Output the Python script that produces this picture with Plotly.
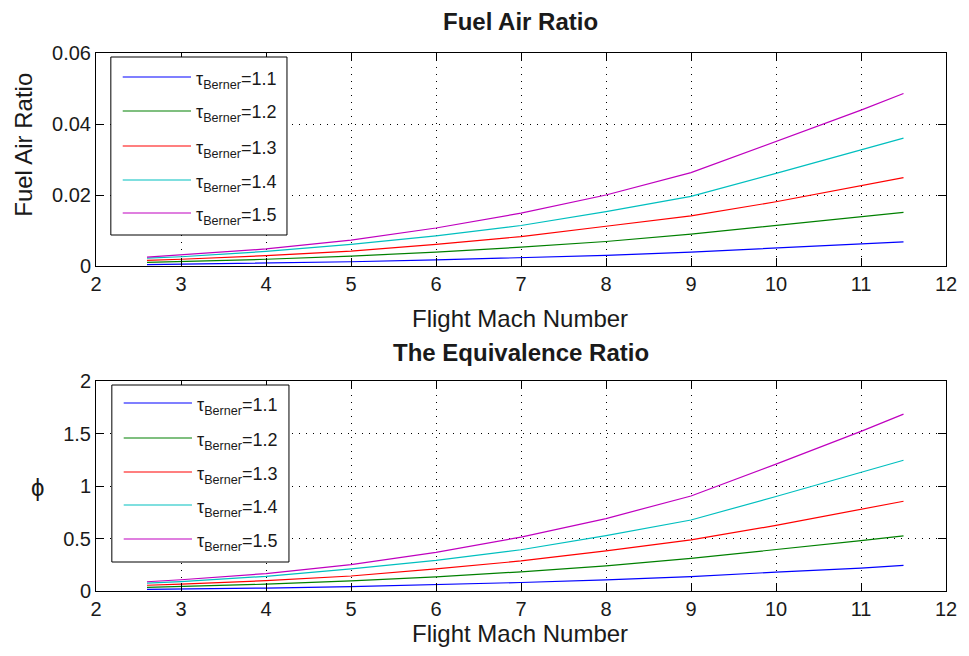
import plotly.graph_objects as go
from plotly.subplots import make_subplots

# Flight Mach numbers at which the cycle was evaluated
mach = [2.6, 3, 4, 5, 6, 7, 8, 9, 10, 11, 11.5]

# Burner temperature ratios (one curve each)
tau_labels = ["1.1", "1.2", "1.3", "1.4", "1.5"]

# Fuel/air ratio for each burner temperature ratio
far_11 = [0.0004, 0.0005, 0.0008, 0.0012, 0.0017, 0.0023, 0.0030, 0.0039, 0.0050, 0.0063, 0.0068]
far_12 = [0.0010, 0.0012, 0.0019, 0.0028, 0.0039, 0.0053, 0.0069, 0.0090, 0.0114, 0.0139, 0.0151]
far_13 = [0.0016, 0.0019, 0.0029, 0.0042, 0.0061, 0.0083, 0.0112, 0.0141, 0.0181, 0.0226, 0.0249]
far_14 = [0.0022, 0.0026, 0.0041, 0.0061, 0.0085, 0.0114, 0.0153, 0.0196, 0.0261, 0.0327, 0.0360]
far_15 = [0.0025, 0.0031, 0.0048, 0.0073, 0.0107, 0.0149, 0.0200, 0.0263, 0.0350, 0.0439, 0.0486]

# Equivalence ratio for each burner temperature ratio
phi_11 = [0.015, 0.018, 0.028, 0.042, 0.060, 0.081, 0.106, 0.136, 0.180, 0.218, 0.245]
phi_12 = [0.035, 0.042, 0.065, 0.097, 0.135, 0.183, 0.240, 0.310, 0.392, 0.480, 0.525]
phi_13 = [0.055, 0.065, 0.098, 0.143, 0.210, 0.286, 0.382, 0.487, 0.625, 0.780, 0.855]
phi_14 = [0.075, 0.090, 0.140, 0.210, 0.292, 0.393, 0.527, 0.676, 0.900, 1.130, 1.245]
phi_15 = [0.088, 0.107, 0.166, 0.252, 0.368, 0.513, 0.690, 0.905, 1.208, 1.520, 1.685]

far_series = [far_11, far_12, far_13, far_14, far_15]
phi_series = [phi_11, phi_12, phi_13, phi_14, phi_15]

x_ticks = list(range(2, 13))
far_ticks = [0, 0.02, 0.04, 0.06]
far_ticktext = ["0", "0.02", "0.04", "0.06"]
phi_ticks = [0, 0.5, 1, 1.5, 2]
phi_ticktext = ["0", "0.5", "1", "1.5", "2"]

colors = ["#0000ff", "#008000", "#ff0000", "#00bfbf", "#bf00bf"]

W, H = 969, 656
ML, MR, MT, MB = 96, 14, 53, 65
PW = W - ML - MR
PH = H - MT - MB


def px_x(px):
    return (px - ML) / PW


def px_y(py):
    return (H - MB - py) / PH


FONT = "Liberation Sans, Arial, sans-serif"
TXT = "#1a1a1a"

top_lo = px_y(266)
bot_hi = px_y(381)

fig = make_subplots(rows=2, cols=1)

for lab, far, phi, col in zip(tau_labels, far_series, phi_series, colors):
    fig.add_trace(go.Scatter(x=mach, y=far, mode="lines", name=lab,
                             line=dict(color=col, width=1.2), showlegend=False),
                  row=1, col=1)
    fig.add_trace(go.Scatter(x=mach, y=phi, mode="lines", name=lab,
                             line=dict(color=col, width=1.2), showlegend=False),
                  row=2, col=1)

axis_common = dict(
    showline=True, linecolor="black", linewidth=1, mirror="ticks",
    ticks="inside", ticklen=8, tickcolor="black", tickwidth=1,
    showgrid=True, gridcolor="black", gridwidth=1, griddash="1px,6px",
    zeroline=False,
    tickfont=dict(family=FONT, size=20, color=TXT),
)

fig.update_xaxes(range=[2, 12], tickvals=x_ticks, **axis_common)
fig.update_layout(
    xaxis=dict(domain=[0, 1]),
    xaxis2=dict(domain=[0, 1]),
    yaxis=dict(domain=[top_lo, 1], range=[0, 0.06], tickvals=far_ticks,
               ticktext=far_ticktext, **axis_common),
    yaxis2=dict(domain=[0, bot_hi], range=[0, 2], tickvals=phi_ticks,
                ticktext=phi_ticktext, **axis_common),
)

annotations = []
shapes = []


def label(text, cx, cy, size=24, angle=0):
    return dict(text=text, x=px_x(cx), y=px_y(cy), xref="paper", yref="paper",
                xanchor="center", yanchor="middle", showarrow=False,
                textangle=angle, font=dict(family=FONT, size=size, color=TXT))


# Titles and axis labels
annotations += [
    label("<b>Fuel Air Ratio</b>", 525, 22, size=24),
    label("<b>The Equivalence Ratio</b>", 525, 352, size=24),
    label("Flight Mach Number", 524, 318),
    label("Flight Mach Number", 524, 633),
    label("Fuel Air Ratio", 22, 145, angle=-90),
    label("ϕ", 37, 487),
]

# Legend boxes drawn inside each panel
legend_boxes = [
    dict(x0=111, x1=289, y0=57, y1=235, rows=[77, 111, 146, 180, 213]),
    dict(x0=112, x1=291, y0=385, y1=562, rows=[403, 438, 472, 505, 539]),
]
for box in legend_boxes:
    shapes.append(dict(type="rect", xref="paper", yref="paper",
                       x0=px_x(box["x0"]), x1=px_x(box["x1"]),
                       y0=px_y(box["y1"]), y1=px_y(box["y0"]),
                       line=dict(color="black", width=1), fillcolor="white", layer="above"))
    for lab, col, ry in zip(tau_labels, colors, box["rows"]):
        shapes.append(dict(type="line", xref="paper", yref="paper",
                           x0=px_x(box["x0"] + 12), x1=px_x(box["x0"] + 81),
                           y0=px_y(ry), y1=px_y(ry),
                           line=dict(color=col, width=1.2), layer="above"))
        annotations.append(dict(
            text="τ<sub>Berner</sub>=" + lab,
            x=px_x(box["x0"] + 84), y=px_y(ry + 3), xref="paper", yref="paper",
            xanchor="left", yanchor="middle", showarrow=False,
            font=dict(family=FONT, size=18, color=TXT)))

fig.update_layout(
    width=W, height=H,
    margin=dict(l=ML, r=MR, t=MT, b=MB),
    paper_bgcolor="white", plot_bgcolor="white",
    annotations=annotations, shapes=shapes,
    showlegend=False,
)

fig.write_html("out.html")
